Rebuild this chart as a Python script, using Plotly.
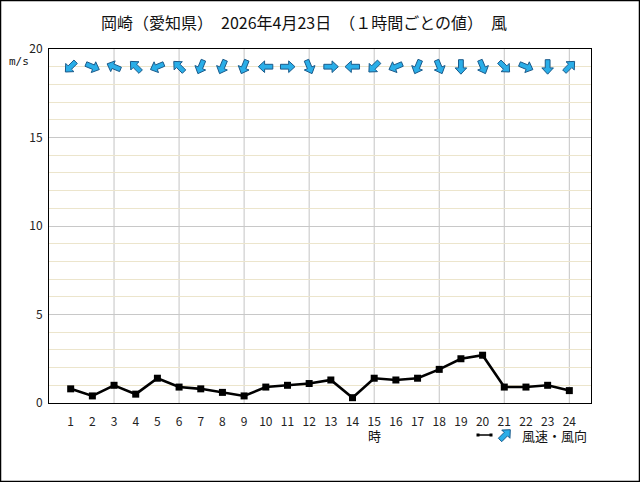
import math
import plotly.graph_objects as go

# ---- data ----
hours = list(range(1, 25))
hour_labels = [str(h) for h in hours]
wind_speed = [0.8, 0.4, 1.0, 0.5, 1.4, 0.9, 0.8, 0.6, 0.4, 0.9, 1.0, 1.1,
              1.3, 0.3, 1.4, 1.3, 1.4, 1.9, 2.5, 2.7, 0.9, 0.9, 1.0, 0.7]
# direction the wind blows FROM (16 points)
wind_dir = ["北東", "西北西", "東南東", "南東", "東北東", "南東", "北北東", "北北東",
            "北北東", "東", "西", "北北西", "西", "東", "北東", "東北東",
            "北北東", "北北西", "北", "北北西", "北西", "西北西", "北", "南西"]
compass16 = ["北", "北北東", "北東", "東北東", "東", "東南東", "南東", "南南東",
             "南", "南南西", "南西", "西南西", "西", "西北西", "北西", "北北西"]
arrow_row_value = 19
grid_hours = [3, 6, 9, 12, 15, 18, 21, 24]
y_ticks = [0, 5, 10, 15, 20]
title_text = "岡崎（愛知県）　2026年4月23日　（１時間ごとの値）　風"
unit_text = "m/s"
xlabel_text = "時"
legend_text = "風速・風向"

# ---- layout geometry ----
W, H = 640, 482
ML, MR, MT, MB = 49, 49, 49, 79
PW, PH = W - ML - MR, H - MT - MB
FONT = "Noto Sans CJK JP, DejaVu Sans, sans-serif"
ARROW_FILL = "#2aaee8"
ARROW_EDGE = "#1b5a8a"
# block arrow outline (pixels, pointing up, centred on the anchor)
ARROW_POLY = [(0, 7.5), (5.8, 1.2), (2.4, 1.2), (2.4, -7), (-2.4, -7),
              (-2.4, 1.2), (-5.8, 1.2)]


def px_to_paper_x(px):
    return (px - ML) / PW


def px_to_paper_y(py):
    return (H - MB - py) / PH


def arrow_path(angle_deg):
    t = math.radians(angle_deg)
    c, s = math.cos(t), math.sin(t)
    pts = [(x * c + y * s, -x * s + y * c) for x, y in ARROW_POLY]
    return "M" + " L".join(f"{x:.2f},{y:.2f}" for x, y in pts) + " Z"


def arrow_shape(angle_deg, xa, ya, xref, yref):
    return dict(type="path", xref=xref, yref=yref,
                xsizemode="pixel", ysizemode="pixel",
                xanchor=xa, yanchor=ya, path=arrow_path(angle_deg),
                fillcolor=ARROW_FILL, line=dict(color=ARROW_EDGE, width=1),
                layer="above")


fig = go.Figure()
fig.add_trace(go.Scatter(
    x=hours, y=wind_speed, mode="lines+markers",
    line=dict(color="black", width=2.6),
    marker=dict(symbol="square", size=7, color="black"),
    showlegend=False, hoverinfo="x+y"))

shapes = []
for gh in grid_hours:
    shapes.append(dict(type="line", xref="x", yref="paper", x0=gh, x1=gh,
                       y0=0, y1=1, line=dict(color="#c4c4c4", width=1),
                       layer="below"))
for h, d in zip(hours, wind_dir):
    ang = (compass16.index(d) * 22.5 + 180) % 360
    shapes.append(arrow_shape(ang, h, arrow_row_value, "x", "y"))

# legend glyphs
shapes.append(dict(type="line", xref="paper", yref="paper",
                   x0=px_to_paper_x(478), x1=px_to_paper_x(491),
                   y0=px_to_paper_y(435), y1=px_to_paper_y(435),
                   line=dict(color="black", width=1.5)))
for gx in (478, 491):
    shapes.append(dict(type="rect", xref="paper", yref="paper",
                       x0=px_to_paper_x(gx - 1.5), x1=px_to_paper_x(gx + 1.5),
                       y0=px_to_paper_y(436.5), y1=px_to_paper_y(433.5),
                       fillcolor="black", line=dict(width=0)))
shapes.append(arrow_shape(45, px_to_paper_x(505), px_to_paper_y(435),
                          "paper", "paper"))
# outer frame
shapes.append(dict(type="rect", xref="paper", yref="paper",
                   x0=px_to_paper_x(0.5), x1=px_to_paper_x(W - 0.5),
                   y0=px_to_paper_y(H - 0.5), y1=px_to_paper_y(0.5),
                   line=dict(color="black", width=1.5)))


def label(text, x, y, size=13, family=FONT, xref="paper"):
    return dict(text=text, xref=xref, yref="paper", x=x, y=y,
                xanchor="center", yanchor="middle", showarrow=False,
                font=dict(family=family, size=size, color="#111"))


annotations = [
    label(title_text, px_to_paper_x(304), px_to_paper_y(22), size=16),
    label(unit_text, px_to_paper_x(19), px_to_paper_y(61), size=11,
          family="DejaVu Sans Mono, monospace"),
    label(xlabel_text, 15, px_to_paper_y(435), xref="x"),
    label(legend_text, px_to_paper_x(554), px_to_paper_y(435)),
]

fig.update_layout(
    width=W, height=H,
    margin=dict(l=ML, r=MR, t=MT, b=MB, pad=0),
    paper_bgcolor="white", plot_bgcolor="white",
    font=dict(family=FONT, size=12, color="#222"),
    xaxis=dict(range=[0, 25], tickmode="array", tickvals=hours,
               ticktext=hour_labels, showgrid=False, zeroline=False,
               showline=True, mirror=True, linecolor="black", linewidth=1,
               ticks="", ticklabelstandoff=8, tickfont=dict(size=12)),
    yaxis=dict(range=[0, 20], tickmode="array", tickvals=y_ticks,
               showgrid=True, gridcolor="#c8c8c8", gridwidth=1,
               zeroline=False, showline=True, mirror=True,
               linecolor="black", linewidth=1, ticks="",
               ticklabelstandoff=3, tickfont=dict(size=12),
               minor=dict(dtick=1, showgrid=True, gridcolor="#ece5cc",
                          gridwidth=1)),
    annotations=annotations,
    shapes=shapes,
    showlegend=False,
)

fig.write_html("out.html")
